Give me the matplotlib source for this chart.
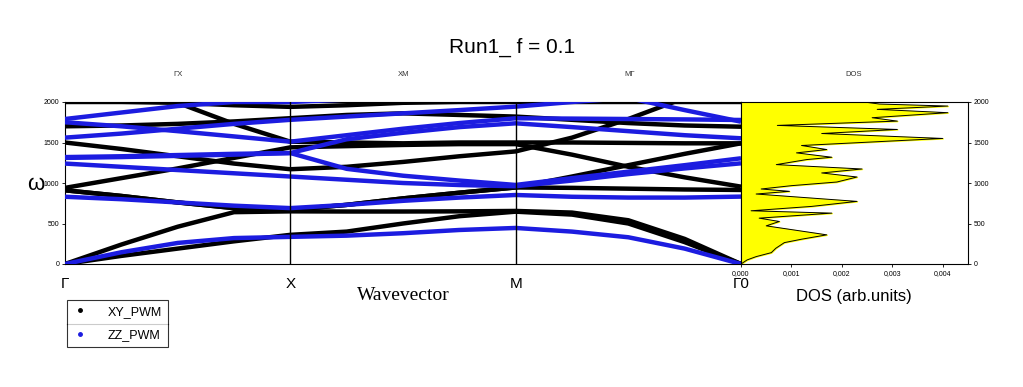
import numpy as np
import matplotlib

matplotlib.use("Agg")
import matplotlib.pyplot as plt
from matplotlib.lines import Line2D

plt.rcParams["font.family"] = ["Liberation Sans", "DejaVu Sans"]

# k path: Γ(0) -> X(1) -> M(2) -> Γ(3), sampled at quarter steps
k_path = [0, 0.25, 0.5, 0.75, 1, 1.25, 1.5, 1.75, 2, 2.25, 2.5, 2.75, 3]
k_labels = ["Γ", "X", "M", "Γ0"]
seg_titles = ["ΓX", "XM", "MΓ"]

# XY_PWM bands (black)
xy_bands = [
    [0, 100, 190, 280, 360, 400, 500, 590, 646, 610, 500, 270, 0],
    [0, 240, 460, 640, 650, 648, 648, 650, 655, 635, 540, 310, 0],
    [910, 840, 760, 690, 670, 730, 810, 880, 945, 940, 930, 920, 914],
    [910, 840, 760, 690, 670, 730, 810, 880, 945, 1080, 1220, 1360, 1490],
    [940, 1060, 1180, 1310, 1440, 1455, 1470, 1480, 1480, 1350, 1200, 1070, 955],
    [1500, 1420, 1330, 1240, 1170, 1200, 1260, 1330, 1390, 1560, 1790, 2050, 2300],
    [1700, 1710, 1730, 1760, 1800, 1840, 1860, 1840, 1820, 1780, 1740, 1710, 1695],
    [2000, 2000, 1990, 1960, 1940, 1960, 1990, 2000, 2000, 2000, 2000, 2000, 2000],
    [2300, 2150, 1990, 1730, 1510, 1500, 1490, 1500, 1500, 1500, 1495, 1490, 1490],
]

# ZZ_PWM bands (blue)
zz_bands = [
    [0, 145, 260, 320, 335, 350, 380, 420, 445, 400, 330, 190, 0],
    [830, 800, 760, 720, 690, 730, 780, 820, 852, 830, 820, 820, 832],
    [1240, 1200, 1160, 1120, 1080, 1040, 1000, 975, 960, 1030, 1110, 1180, 1243],
    [1310, 1320, 1335, 1350, 1370, 1175, 1090, 1030, 976, 1060, 1140, 1220, 1305],
    [1320, 1330, 1345, 1360, 1370, 1540, 1620, 1690, 1737, 1690, 1640, 1590, 1552],
    [1750, 1700, 1640, 1575, 1510, 1590, 1670, 1740, 1799, 1795, 1790, 1785, 1778],
    [1560, 1610, 1670, 1730, 1780, 1820, 1860, 1900, 1943, 2000, 2050, 1900, 1757],
    [1790, 1870, 1950, 2000, 2000, 2030, 2060, 2080, 2100, 2100, 2100, 2100, 2100],
]

# density of states (arb. units) vs omega
dos_omega = [0, 50, 91, 140, 194, 264, 306, 360, 471, 525, 566, 628, 657, 711, 773,
             864, 897, 926, 967, 1012, 1074, 1124, 1173, 1227, 1289, 1318, 1372,
             1413, 1463, 1550, 1611, 1661, 1711, 1764, 1806, 1868, 1909, 1950, 1975, 2000]
dos_value = [0, 0.00012, 0.0003, 0.0006, 0.00069, 0.00086, 0.0012, 0.0017, 0.0005, 0.00076,
             0.00036, 0.0018, 0.0002, 0.0014, 0.0023, 0.0003, 0.00096, 0.0004, 0.001,
             0.0019, 0.0023, 0.0016, 0.0024, 0.0007, 0.0013, 0.0018, 0.0011, 0.0017,
             0.0012, 0.0040, 0.0016, 0.0031, 0.00072, 0.0031, 0.0026, 0.0041, 0.0027,
             0.0041, 0.00274, 0.00244]

W, H = 1023, 387
fig = plt.figure(figsize=(W / 100, H / 100), dpi=100)


def fx(px):
    return px / W


def fy(py):
    return 1 - py / H


ax = fig.add_axes([fx(65), fy(264), fx(741) - fx(65), fy(102) - fy(264)])
axd = fig.add_axes([fx(741), fy(264), fx(968) - fx(741), fy(102) - fy(264)])

blue = "#1c1ce0"
for i, b in enumerate(xy_bands):
    ax.plot(k_path, b, color="black", lw=3.2, solid_capstyle="butt",
            label="XY_PWM" if i == 0 else None, zorder=2)
for i, b in enumerate(zz_bands):
    ax.plot(k_path, b, color=blue, lw=3.2, solid_capstyle="butt",
            label="ZZ_PWM" if i == 0 else None, zorder=3)

for kx in [1, 2]:
    ax.axvline(kx, color="black", lw=1.0, zorder=4)

ax.set_xlim(0, 3)
ax.set_ylim(0, 2000)
ax.set_xticks([0, 1, 2, 3])
ax.set_xticklabels(k_labels, fontsize=11)
ax.tick_params(axis="x", length=0, pad=9)
ax.set_yticks([0, 500, 1000, 1500, 2000])
ax.tick_params(axis="y", labelsize=5, length=2, width=0.6, pad=2)
for s in ax.spines.values():
    s.set_linewidth(0.8)

# DOS panel
axd.fill_betweenx(dos_omega, 0, dos_value, color="#ffff00", zorder=1)
axd.plot(dos_value, dos_omega, color="black", lw=0.7, zorder=2)
axd.set_xlim(0, 0.0045)
axd.set_ylim(0, 2000)
axd.set_xticks([0, 0.001, 0.002, 0.003, 0.004])
axd.set_xticklabels(["0,000", "0,001", "0,002", "0,003", "0,004"])
axd.tick_params(axis="x", labelsize=5, length=2, width=0.6, pad=2)
axd.yaxis.tick_right()
axd.set_yticks([0, 500, 1000, 1500, 2000])
axd.tick_params(axis="y", labelsize=5, length=2, width=0.6, pad=2)
for s in axd.spines.values():
    s.set_linewidth(0.8)

# titles and labels
fig.text(fx(512), fy(47), "Run1_ f = 0.1", fontsize=15, ha="center", va="center")
for i, t in enumerate(seg_titles):
    fig.text(fx(178 + 226 * i), fy(74), t, fontsize=5.5, ha="center", va="center", color="#333333")
fig.text(fx(854), fy(74), "DOS", fontsize=5.5, ha="center", va="center", color="#333333")
fig.text(fx(36), fy(184), "ω", fontsize=16, ha="center", va="center")
fig.text(fx(403), fy(296), "Wavevector", fontsize=14, ha="center", va="center",
         family=["Liberation Serif", "DejaVu Serif"])
fig.text(fx(854), fy(297), "DOS (arb.units)", fontsize=12, ha="center", va="center")

# legend
leg_handles = [
    Line2D([], [], color="black", marker="o", ls="none", markersize=2.5),
    Line2D([], [], color=blue, marker="o", ls="none", markersize=2.5),
]
leg = fig.legend(leg_handles, ["XY_PWM", "ZZ_PWM"], loc="upper left",
                 bbox_to_anchor=(fx(67), fy(300)), fontsize=9, frameon=True,
                 fancybox=False, edgecolor="black", borderpad=0.45,
                 labelspacing=0.9, handletextpad=1.6, handlelength=1.2,
                 borderaxespad=0)
leg.get_frame().set_linewidth(0.8)
fig.add_artist(Line2D([fx(67), fx(168)], [fy(324), fy(324)], color="black", lw=0.8,
                      transform=fig.transFigure))

fig.savefig("out.png", dpi=100)
